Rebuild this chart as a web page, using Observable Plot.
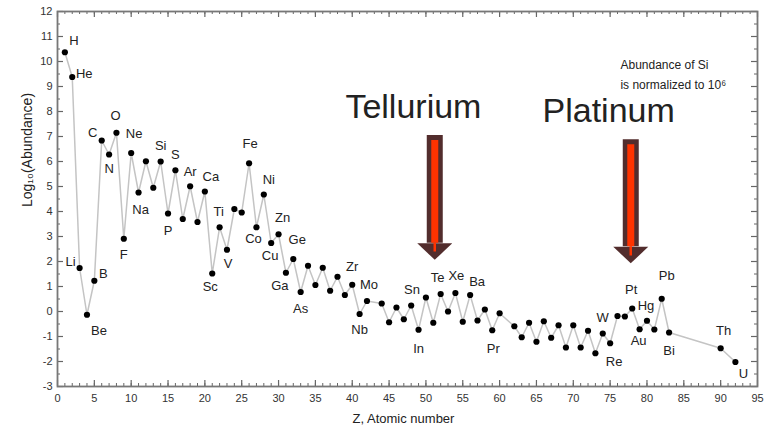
<!DOCTYPE html>
<html><head><meta charset="utf-8">
<script src="https://cdn.jsdelivr.net/npm/d3@7"></script>
<script src="https://cdn.jsdelivr.net/npm/@observablehq/plot@0.6"></script>
<style>
html,body{margin:0;padding:0;background:#fff;}
#chart svg{display:block;}
</style>
</head><body><div id="chart"></div>
<script>
// ---- data ----
const Z = [1,2,3,4,5,6,7,8,9,10,11,12,13,14,15,16,17,18,19,20,21,22,23,24,25,26,27,28,29,30,31,32,33,34,35,36,37,38,39,40,41,42,44,45,46,47,48,49,50,51,52,53,54,55,56,57,58,59,60,62,63,64,65,66,67,68,69,70,71,72,73,74,75,76,77,78,79,80,81,82,83,90,92];
const symbols = ["H","He","Li","Be","B","C","N","O","F","Ne","Na","Mg","Al","Si","P","S","Cl","Ar","K","Ca","Sc","Ti","V","Cr","Mn","Fe","Co","Ni","Cu","Zn","Ga","Ge","As","Se","Br","Kr","Rb","Sr","Y","Zr","Nb","Mo","Ru","Rh","Pd","Ag","Cd","In","Sn","Sb","Te","I","Xe","Cs","Ba","La","Ce","Pr","Nd","Sm","Eu","Gd","Tb","Dy","Ho","Er","Tm","Yb","Lu","Hf","Ta","W","Re","Os","Ir","Pt","Au","Hg","Tl","Pb","Bi","Th","U"];
const logAbundance = [10.37,9.38,1.74,-0.13,1.23,6.84,6.28,7.15,2.91,6.34,4.76,6.01,4.95,6.00,3.92,5.65,3.70,5.01,3.58,4.80,1.52,3.37,2.47,4.10,3.96,5.93,3.37,4.68,2.74,3.09,1.55,2.10,0.78,1.83,1.06,1.75,0.83,1.39,0.66,1.07,-0.10,0.42,0.32,-0.43,0.16,-0.31,0.24,-0.73,0.56,-0.45,0.70,0.00,0.74,-0.41,0.66,-0.36,0.08,-0.75,-0.07,-0.59,-1.03,-0.45,-1.21,-0.39,-1.05,-0.55,-1.44,-0.55,-1.44,-0.77,-1.67,-0.88,-1.27,-0.18,-0.20,0.12,-0.71,-0.37,-0.72,0.51,-0.84,-1.47,-2.02];

// elements that carry a text label in the chart
const labeledSymbols = ["H","He","Li","Be","B","C","N","O","F","Ne","Na","Si","P","S","Ar","Ca","Sc","Ti","V","Fe","Co","Ni","Cu","Zn","Ga","Ge","As","Zr","Nb","Mo","Sn","In","Te","Xe","Ba","Pr","W","Re","Pt","Au","Hg","Pb","Bi","Th","U"];

const xTicks = d3.range(0, 96, 5);
const yTicks = d3.range(-3, 13, 1);
const xMinorTicks = d3.range(0, 96, 1);
const yMinorTicks = d3.range(-3, 12.01, 0.5);

// callout arrows (data coordinates)
const arrowNames = ["Tellurium", "Platinum"];
const arrowZ = [51.2, 77.8];
const arrowTop = [7.04, 6.87];
const arrowHeadTop = [2.73, 2.59];
const arrowTip = [2.06, 1.90];
const calloutZ = [48.3, 74.8];
const calloutY = [7.73, 7.57];

const noteText = "Abundance of Si\nis normalized to 10\u2076";
const noteZ = 76.4, noteY = 10.28;
const xLabel = "Z, Atomic number";
const yLabel = "Log\u2081\u2080(Abundance)";

// ---- label placement (pixel offsets) ----
const labelOffsets = {H:[9,-11], He:[12,-3], Li:[-9,-6], Be:[12,16], B:[9,-7], C:[-9,-8], N:[0,14], O:[-1,-17], F:[0,16], Ne:[3,-19], Na:[2,17], Si:[0,-16], P:[0,17], S:[0,-15], Ar:[0,-14], Ca:[6,-15], Sc:[-2,13], Ti:[-1,-15], V:[1,14], Fe:[1,-19], Co:[-3,12], Ni:[5,-15], Cu:[-1,13], Zn:[4,-16], Ga:[-6,13], Ge:[4,-19], As:[0,17], Zr:[0,-18], Nb:[0,16], Mo:[2,-16], Sn:[-14,-8], In:[0,19], Te:[-3,-16], Xe:[1,-17], Ba:[7,-13], Pr:[1,19], W:[0,-16], Re:[4,19], Pt:[-1,-19], Au:[-1,12], Hg:[-1,-15], Pb:[5,-23], Bi:[0,18], Th:[3,-17], U:[8,12]};

if (Z.length !== symbols.length || Z.length !== logAbundance.length) throw new Error("length mismatch");

const data = Z.map((z, i) => ({z, sym: symbols[i], v: logAbundance[i]}));
const arrows = arrowNames.map((name, i) => ({name, z: arrowZ[i], top: arrowTop[i], headTop: arrowHeadTop[i], tip: arrowTip[i]}));
const callouts = arrowNames.map((name, i) => ({name, z: calloutZ[i], y: calloutY[i]}));

const W = 776, H = 435;
const mTop = 11, mBottom = 49, mLeft = 57, mRight = 19;
const ph = H - mTop - mBottom, pw = W - mLeft - mRight;
const tickColor = "#666";
const brown = "#522d2d", red = "#ff3300";

const headSymbol = {
  draw(ctx) {
    ctx.moveTo(-17.5, 0);
    ctx.lineTo(17.5, 0);
    ctx.lineTo(0, 16.6);
    ctx.closePath();
  }
};

const labelMarks = labeledSymbols.map(s => {
  const [dx, dy] = labelOffsets[s] || [0, -14];
  return Plot.text(data.filter(d => d.sym === s), {x: "z", y: "v", text: "sym", dx, dy, fontSize: 13, fill: "#222"});
});

const chart = Plot.plot({
  width: W, height: H,
  marginTop: mTop, marginBottom: mBottom, marginLeft: mLeft, marginRight: mRight,
  style: {fontFamily: "'Liberation Sans', Arial, sans-serif", fontSize: "11px", color: "#333", background: "#fff"},
  x: {domain: [0, 95], label: null},
  y: {domain: [-3, 12], label: null},
  marks: [
    // minor & major ticks, inward, on all four sides
    Plot.ruleX(xMinorTicks, {x: d => d, insetTop: ph - 3, stroke: tickColor}),
    Plot.ruleX(xMinorTicks, {x: d => d, insetBottom: ph - 3, stroke: tickColor}),
    Plot.ruleX(xTicks, {x: d => d, insetTop: ph - 6, stroke: tickColor, strokeWidth: 1.2}),
    Plot.ruleX(xTicks, {x: d => d, insetBottom: ph - 6, stroke: tickColor, strokeWidth: 1.2}),
    Plot.ruleY(yMinorTicks, {y: d => d, insetRight: pw - 3, stroke: tickColor}),
    Plot.ruleY(yMinorTicks, {y: d => d, insetLeft: pw - 3, stroke: tickColor}),
    Plot.ruleY(yTicks, {y: d => d, insetRight: pw - 6, stroke: tickColor, strokeWidth: 1.2}),
    Plot.ruleY(yTicks, {y: d => d, insetLeft: pw - 6, stroke: tickColor, strokeWidth: 1.2}),
    Plot.frame({stroke: "#777", strokeWidth: 1.8}),
    Plot.axisX({ticks: xTicks, tickSize: 0, tickPadding: 8, tickFormat: d => String(d), label: null, fontSize: 11, fill: "#333"}),
    Plot.axisY({ticks: yTicks, tickSize: 0, tickPadding: 5, tickFormat: d => String(d), label: null, fontSize: 11, fill: "#333"}),
    // data
    Plot.line(data, {x: "z", y: "v", stroke: "#c4c4c4", strokeWidth: 1.5}),
    Plot.dot(data, {x: "z", y: "v", r: 3.1, fill: "#000", stroke: "none"}),
    ...labelMarks,
    // axis titles and note
    Plot.text([xLabel], {text: d => d, frameAnchor: "bottom", dx: -4, dy: 36, fontSize: 13, fill: "#222"}),
    Plot.text([yLabel], {text: d => d, frameAnchor: "left", dx: -30, dy: 8, rotate: -90, fontSize: 14, fill: "#222"}),
    Plot.text([noteText], {text: d => d, x: () => noteZ, y: () => noteY, textAnchor: "start", lineAnchor: "top", lineHeight: 1.7, fontSize: 12, fill: "#222"}),
    // callout arrows
    Plot.ruleX(arrows, {x: "z", y1: "top", y2: "headTop", stroke: brown, strokeWidth: 16}),
    Plot.dot(arrows, {x: "z", y: "headTop", symbol: headSymbol, fill: brown, stroke: "none"}),
    Plot.ruleX(arrows, {x: "z", y1: "top", y2: "headTop", insetTop: 5, stroke: red, strokeWidth: 7}),
    Plot.ruleX(arrows, {x: "z", y1: "headTop", y2: "tip", insetBottom: 8, stroke: red, strokeWidth: 2.5}),
    Plot.text(callouts, {x: "z", y: "y", text: "name", lineAnchor: "bottom", fontSize: 34, fill: "#222"})
  ]
});

document.getElementById("chart").appendChild(chart);
</script>
</body></html>
